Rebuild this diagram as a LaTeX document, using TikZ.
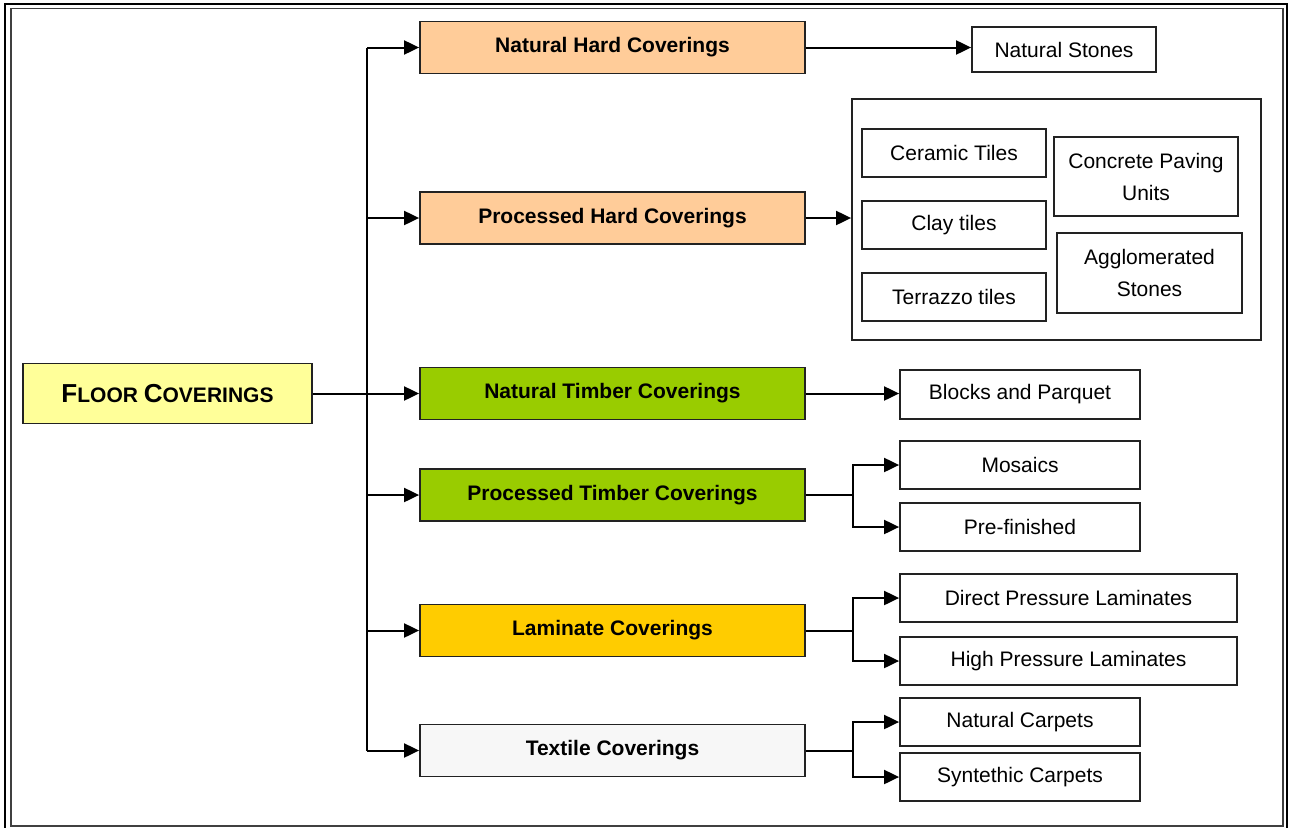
\documentclass[tikz,border=0pt]{standalone}
\usepackage{fontspec}
\setmainfont{Liberation Sans}
\usetikzlibrary{arrows.meta}
\definecolor{peach}{HTML}{FFCC99}
\definecolor{lime}{HTML}{99CC00}
\definecolor{gold}{HTML}{FFCC00}
\definecolor{paleyellow}{HTML}{FFFF99}
\definecolor{palegray}{HTML}{F7F7F7}
\definecolor{edge}{HTML}{222222}
\tikzset{
  box/.style={draw=edge, line width=1.8pt, inner sep=0pt, align=center,
    font=\fontsize{21}{32}\selectfont},
  catbox/.style={box, minimum width=385pt, minimum height=52pt,
    font=\fontsize{21}{25}\selectfont\bfseries},
  leafbox/.style={box, fill=white},
  line/.style={line width=2pt, draw=black},
  arr/.style={line, -{Triangle[length=15pt,width=14pt]}},
}
\begin{document}
\begin{tikzpicture}[x=1pt,y=-1pt]
\useasboundingbox (0,0) rectangle (1289,827);
\clip (0,0) rectangle (1289,827);
% page frame (thick-thin)
\draw[line width=2.5pt] (5,840) -- (5,4) -- (1287,4) -- (1287,840);
\draw[line width=1.2pt, draw=black!75] (11,8.5) rectangle (1283,826);

% root
\node[box, fill=paleyellow, minimum width=289pt, minimum height=60pt,
  font=\bfseries] (fc) at (167.5,393.5)
  {\fontsize{26}{30}\selectfont F\fontsize{21}{30}\selectfont LOOR \fontsize{26}{30}\selectfont C\fontsize{21}{30}\selectfont OVERINGS};

% categories
\node[catbox, fill=peach] (nhc) at (612.5,47.5) {Natural Hard Coverings};
\node[catbox, fill=peach] (phc) at (612.5,218) {Processed Hard Coverings};
\node[catbox, fill=lime] (ntc) at (612.5,393.5) {Natural Timber Coverings};
\node[catbox, fill=lime] (ptc) at (612.5,495) {Processed Timber Coverings};
\node[catbox, fill=gold] (lam) at (612.5,630.5) {Laminate Coverings};
\node[catbox, fill=palegray] (tex) at (612.5,750.5) {Textile Coverings};

% trunk
\coordinate (tt) at (367,47.5);
\coordinate (tb) at (367,750.5);
\draw[line] (tt) -- (tb);
\foreach \c in {nhc,phc,ptc,lam,tex}
  \draw[arr] (tb |- \c.west) -- (\c.west);
\draw[arr] (fc.east) -- (ntc.west);

% leaves
\node[leafbox, minimum width=184pt, minimum height=45pt] (ns) at (1064,49.5) {Natural Stones};
\draw[arr] (nhc.east) -- (nhc.east -| ns.west);

\node[leafbox, minimum width=409pt, minimum height=241pt] (big) at (1056.5,219.5) {};
\node[leafbox, minimum width=184pt, minimum height=48pt] (ct) at (954,153) {Ceramic Tiles};
\node[leafbox, minimum width=184pt, minimum height=48pt] (clay) at (954,225) {Clay tiles};
\node[leafbox, minimum width=184pt, minimum height=48pt] (terr) at (954,297) {Terrazzo tiles};
\node[leafbox, minimum width=184pt, minimum height=79pt] (cpu) at (1146,176.5) {Concrete Paving\\Units};
\node[leafbox, minimum width=185pt, minimum height=80pt] (agg) at (1149.5,273) {Agglomerated\\Stones};
\draw[arr] (phc.east) -- (phc.east -| big.west);

\node[leafbox, minimum width=240pt, minimum height=49pt] (bp) at (1020,394.5) {Blocks and Parquet};
\draw[arr] (ntc.east) -- (ntc.east -| bp.west);

\node[leafbox, minimum width=240pt, minimum height=48pt] (mos) at (1020,465) {Mosaics};
\node[leafbox, minimum width=240pt, minimum height=48pt] (pre) at (1020,527) {Pre-finished};
\draw[line] (ptc.east) -- ++(47,0) coordinate (j1);
\draw[arr] (j1) |- (mos.west);
\draw[arr] (j1) |- (pre.west);

\node[leafbox, minimum width=337pt, minimum height=48pt] (dpl) at (1068.5,598) {Direct Pressure Laminates};
\node[leafbox, minimum width=337pt, minimum height=48pt] (hpl) at (1068.5,661) {High Pressure Laminates};
\draw[line] (lam.east) -- ++(47,0) coordinate (j2);
\draw[arr] (j2) |- (dpl.west);
\draw[arr] (j2) |- (hpl.west);

\node[leafbox, minimum width=240pt, minimum height=48pt] (nc) at (1020,722) {Natural Carpets};
\node[leafbox, minimum width=240pt, minimum height=48pt] (sc) at (1020,777) {Syntethic Carpets};
\draw[line] (tex.east) -- ++(47,0) coordinate (j3);
\draw[arr] (j3) |- (nc.west);
\draw[arr] (j3) |- (sc.west);
\end{tikzpicture}
\end{document}
